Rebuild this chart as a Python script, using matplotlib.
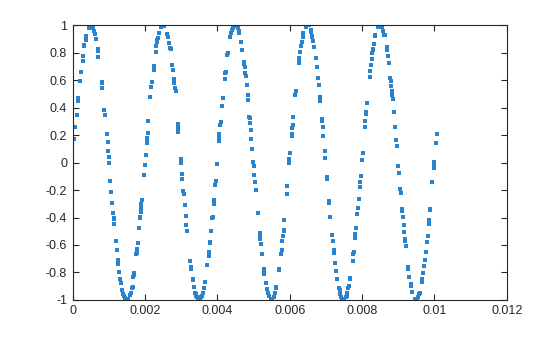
import numpy as np
import matplotlib
matplotlib.use("Agg")
import matplotlib.pyplot as plt

# sample times (milliseconds) and values
t_ms = [0.041,0.069,0.116,0.152,0.152,0.207,0.227,0.274,0.290,0.318,0.318,0.365,0.373,0.440,0.476,0.503,0.531,0.550,0.578,0.605,
0.641,0.705,0.705,0.705,0.816,0.816,0.816,0.871,0.890,0.937,0.965,0.981,0.993,1.009,1.037,1.064,1.092,1.120,1.131,1.147,
1.147,1.203,1.230,1.258,1.258,1.258,1.286,1.313,1.341,1.369,1.396,1.424,1.451,1.479,1.526,1.573,1.601,1.628,1.656,1.673,
1.692,1.700,1.756,1.783,1.783,1.811,1.839,1.866,1.866,1.894,1.894,1.894,1.894,1.921,1.960,1.988,2.015,2.043,2.060,2.060,
2.071,2.087,2.143,2.170,2.190,2.237,2.253,2.292,2.308,2.328,2.336,2.347,2.383,2.438,2.466,2.521,2.613,2.632,2.668,2.687,
2.707,2.743,2.779,2.806,2.806,2.826,2.845,2.922,2.922,2.922,2.922,3.000,3.000,3.027,3.027,3.055,3.083,3.110,3.138,3.138,
3.166,3.249,3.276,3.276,3.332,3.332,3.359,3.387,3.398,3.414,3.442,3.470,3.497,3.525,3.553,3.580,3.608,3.636,3.663,3.719,
3.774,3.774,3.801,3.801,3.829,3.857,3.884,3.912,3.912,3.940,3.967,3.995,4.050,4.050,4.050,4.078,4.106,4.133,4.161,4.216,
4.216,4.244,4.271,4.299,4.354,4.374,4.393,4.421,4.457,4.504,4.559,4.603,4.603,4.659,4.686,4.733,4.733,4.761,4.769,4.797,
4.824,4.852,4.852,4.880,4.907,4.907,4.935,4.935,4.963,4.990,5.018,5.018,5.046,5.073,5.128,5.184,5.184,5.184,5.211,5.239,
5.294,5.294,5.294,5.350,5.377,5.405,5.433,5.488,5.516,5.571,5.599,5.626,5.626,5.693,5.709,5.764,5.792,5.792,5.820,5.831,
5.847,5.847,5.930,5.930,5.986,5.986,6.005,6.069,6.069,6.069,6.096,6.096,6.152,6.179,6.262,6.262,6.262,6.290,6.317,6.345,
6.373,6.373,6.456,6.483,6.539,6.594,6.594,6.621,6.621,6.649,6.677,6.732,6.760,6.787,6.815,6.843,6.843,6.898,6.898,6.926,
6.926,6.981,6.981,7.036,7.036,7.091,7.091,7.119,7.174,7.202,7.230,7.230,7.257,7.285,7.313,7.368,7.396,7.396,7.423,7.451,
7.479,7.506,7.561,7.589,7.589,7.617,7.644,7.672,7.672,7.755,7.755,7.783,7.810,7.810,7.838,7.866,7.893,7.921,7.949,7.949,
7.976,8.004,8.031,8.087,8.087,8.114,8.114,8.142,8.225,8.225,8.253,8.280,8.280,8.308,8.308,8.336,8.363,8.363,8.446,8.474,
8.529,8.557,8.585,8.612,8.640,8.695,8.695,8.723,8.750,8.778,8.806,8.806,8.833,8.833,8.861,8.889,8.916,8.944,8.971,8.999,
9.027,9.054,9.082,9.110,9.110,9.137,9.165,9.165,9.193,9.193,9.220,9.275,9.275,9.303,9.358,9.358,9.386,9.469,9.497,9.524,
9.552,9.580,9.607,9.663,9.663,9.690,9.718,9.746,9.773,9.801,9.829,9.856,9.856,9.884,9.884,9.939,9.994,9.994,9.994,10.050,
10.077]

y_vals = [0.172,0.257,0.347,0.468,0.451,0.592,0.658,0.742,0.779,0.849,0.859,0.893,0.924,0.978,0.995,0.995,0.985,0.978,0.958,0.937,
0.900,0.827,0.815,0.771,0.589,0.578,0.546,0.383,0.347,0.211,0.152,0.084,0.043,-0.003,-0.136,-0.216,-0.296,-0.369,-0.401,-0.413,
-0.449,-0.571,-0.637,-0.709,-0.726,-0.741,-0.799,-0.848,-0.879,-0.930,-0.959,-0.972,-0.984,-0.991,-0.991,-0.966,-0.952,-0.911,-0.906,-0.835,
-0.819,-0.806,-0.668,-0.661,-0.627,-0.588,-0.478,-0.403,-0.394,-0.358,-0.340,-0.333,-0.304,-0.275,-0.090,-0.020,0.055,0.141,0.177,0.165,
0.213,0.305,0.478,0.551,0.585,0.674,0.706,0.803,0.849,0.881,0.895,0.905,0.942,0.990,0.995,0.997,0.937,0.913,0.869,0.837,
0.827,0.711,0.674,0.609,0.578,0.541,0.521,0.279,0.261,0.245,0.221,0.026,-0.001,-0.085,-0.122,-0.205,-0.231,-0.311,-0.391,-0.457,
-0.500,-0.719,-0.763,-0.777,-0.850,-0.857,-0.906,-0.948,-0.959,-0.969,-0.979,-0.991,-0.993,-0.993,-0.979,-0.969,-0.948,-0.913,-0.872,-0.748,
-0.682,-0.653,-0.588,-0.576,-0.500,-0.406,-0.394,-0.304,-0.275,-0.165,-0.132,-0.012,0.206,0.177,0.157,0.274,0.294,0.412,0.468,0.607,
0.650,0.662,0.784,0.796,0.917,0.942,0.966,0.983,0.997,0.997,0.983,0.955,0.944,0.876,0.818,0.731,0.716,0.694,0.650,0.629,
0.563,0.490,0.454,0.330,0.323,0.286,0.235,0.170,0.097,0.004,-0.027,-0.092,-0.143,-0.202,-0.369,-0.515,-0.529,-0.559,-0.595,-0.668,
-0.777,-0.797,-0.813,-0.879,-0.923,-0.948,-0.969,-0.991,-0.993,-0.977,-0.952,-0.913,-0.904,-0.784,-0.777,-0.668,-0.639,-0.573,-0.537,-0.498,
-0.489,-0.420,-0.226,-0.170,-0.005,0.024,0.068,0.196,0.208,0.250,0.272,0.330,0.490,0.519,0.723,0.738,0.760,0.803,0.847,0.876,
0.913,0.942,0.990,1.000,1.000,0.966,0.949,0.924,0.913,0.883,0.840,0.760,0.694,0.614,0.563,0.476,0.447,0.315,0.301,0.257,
0.192,0.082,0.031,-0.107,-0.122,-0.282,-0.296,-0.398,-0.529,-0.573,-0.639,-0.661,-0.733,-0.792,-0.850,-0.916,-0.930,-0.959,-0.979,-0.991,
-0.993,-0.991,-0.979,-0.969,-0.948,-0.913,-0.901,-0.850,-0.843,-0.719,-0.668,-0.653,-0.551,-0.522,-0.478,-0.376,-0.333,-0.267,-0.180,-0.143,
-0.100,0.017,0.068,0.257,0.301,0.352,0.366,0.432,0.626,0.669,0.709,0.752,0.796,0.822,0.830,0.862,0.920,0.927,0.985,1.000,
1.000,0.990,0.956,0.927,0.927,0.840,0.818,0.774,0.723,0.614,0.592,0.556,0.519,0.490,0.461,0.366,0.257,0.162,0.119,-0.027,
-0.078,-0.194,-0.224,-0.340,-0.355,-0.398,-0.457,-0.508,-0.559,-0.573,-0.610,-0.763,-0.777,-0.831,-0.886,-0.901,-0.945,-0.996,-0.996,-0.991,
-0.977,-0.959,-0.952,-0.872,-0.850,-0.806,-0.755,-0.712,-0.653,-0.580,-0.537,-0.449,-0.420,-0.347,-0.340,-0.143,-0.041,-0.020,0.002,0.141,
0.206]

x_ticks = [0, 0.002, 0.004, 0.006, 0.008, 0.01, 0.012]
x_labels = ["0", "0.002", "0.004", "0.006", "0.008", "0.01", "0.012"]
y_ticks = [-1, -0.8, -0.6, -0.4, -0.2, 0, 0.2, 0.4, 0.6, 0.8, 1]
y_labels = ["-1", "-0.8", "-0.6", "-0.4", "-0.2", "0", "0.2", "0.4", "0.6", "0.8", "1"]

t = np.array(t_ms) / 1000.0
y = np.array(y_vals)

plt.rcParams['font.family'] = ['Liberation Sans', 'DejaVu Sans']
plt.rcParams['axes.unicode_minus'] = False

fig = plt.figure(figsize=(5.6, 3.37), dpi=100)
ax = fig.add_axes([0.13, 0.11, 0.775, 0.815])
ax.plot(t, y, linestyle='none', marker='s', markersize=2.2, markeredgewidth=0,
        color='#2A83CF')
ax.set_xlim(0, 0.012)
ax.set_ylim(-1, 1)
ax.set_xticks(x_ticks)
ax.set_xticklabels(x_labels)
ax.set_yticks(y_ticks)
ax.set_yticklabels(y_labels)
edge = '#262626'
for s in ax.spines.values():
    s.set_color(edge)
    s.set_linewidth(0.8)
ax.tick_params(direction='in', top=True, right=True, length=4, width=0.8,
               colors=edge, labelsize=9, labelcolor='#262626', pad=4)
fig.savefig('out.png', dpi=100, facecolor='white')
